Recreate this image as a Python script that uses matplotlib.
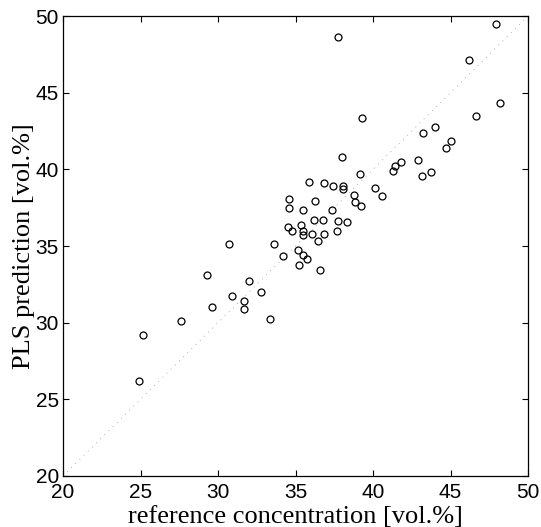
import matplotlib
matplotlib.use('Agg')
from matplotlib import pyplot as plt

# reference vs predicted values
reference = [47.92, 37.72, 46.21, 48.19, 46.62, 39.31, 44.00, 43.21, 45.01, 44.69,
             38.02, 42.92, 41.83, 41.42, 41.31, 43.74, 43.16, 39.14, 35.87, 36.84,
             37.44, 38.04, 38.04, 40.13, 40.56, 38.77, 38.84, 39.22, 36.25, 37.36,
             35.46, 34.56, 34.58, 36.17, 36.76, 37.75, 38.35, 34.50, 35.37, 34.79,
             35.46, 35.46, 36.06, 36.85, 37.67, 36.47, 33.60, 30.71, 34.18, 35.19,
             35.46, 35.76, 35.20, 36.58, 29.31, 32.00, 32.79, 30.90, 31.70, 31.70,
             29.61, 33.37, 27.63, 25.14, 24.90]
prediction = [49.50, 48.63, 47.11, 44.35, 43.48, 43.33, 42.78, 42.35, 41.82, 41.39,
              40.78, 40.61, 40.50, 40.24, 39.89, 39.80, 39.54, 39.67, 39.17, 39.09,
              38.91, 38.91, 38.70, 38.81, 38.28, 38.32, 37.89, 37.64, 37.91, 37.37,
              37.34, 38.04, 37.48, 36.67, 36.69, 36.64, 36.56, 36.26, 36.34, 36.01,
              35.97, 35.72, 35.78, 35.80, 35.98, 35.32, 35.11, 35.15, 34.33, 34.73,
              34.40, 34.13, 33.74, 33.42, 33.11, 32.74, 32.00, 31.75, 31.43, 30.87,
              31.04, 30.26, 30.10, 29.17, 26.19]
diag = [20, 50]
ticks = [20, 25, 30, 35, 40, 45, 50]

fig = plt.figure(figsize=(5.41, 5.27), dpi=100)
ax = fig.add_axes([0.1165, 0.0968, 0.8595, 0.8728])

# dotted y = x line
ax.plot(diag, diag, color='#999999', linestyle=(0, (1, 6)), linewidth=0.6)
ax.plot(reference, prediction, linestyle='none', marker='o', markersize=5,
        markerfacecolor='none', markeredgecolor='black', markeredgewidth=0.9)

ax.set_xlim(20, 50)
ax.set_ylim(20, 50)
ax.set_xticks(ticks)
ax.set_yticks(ticks)
ax.tick_params(direction='in', length=4, width=0.8, top=True, right=True,
               labelsize=15)
ax.tick_params(axis='x', pad=5)
ax.tick_params(axis='y', pad=3)
for lbl in ax.get_xticklabels() + ax.get_yticklabels():
    lbl.set_family('Liberation Sans')
for s in ax.spines.values():
    s.set_linewidth(0.9)

ax.set_xlabel('reference concentration [vol.%]', family='Liberation Serif',
              fontsize=19, labelpad=3)
ax.set_ylabel('PLS prediction [vol.%]', family='Liberation Serif',
              fontsize=19, labelpad=0)

fig.savefig('out.png', dpi=100)
plt.close()
